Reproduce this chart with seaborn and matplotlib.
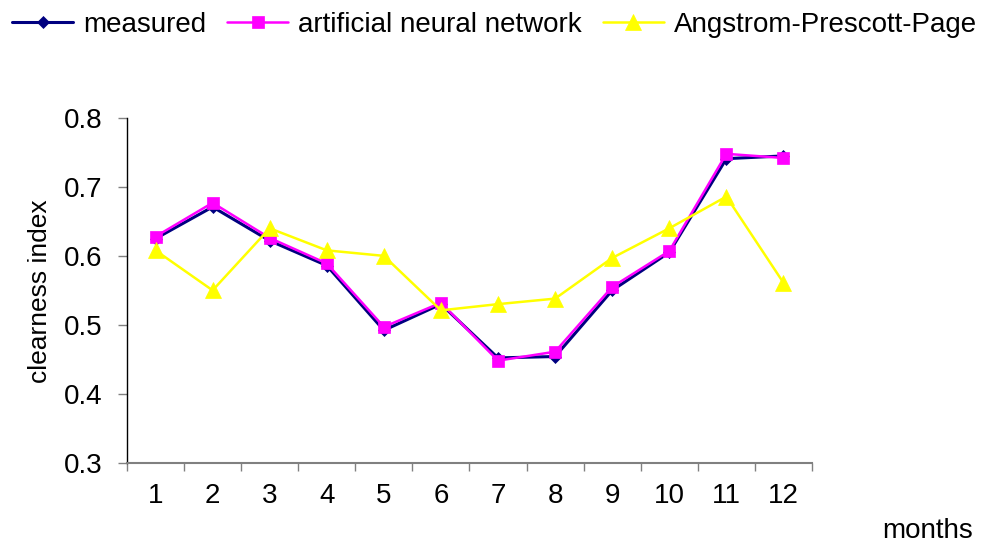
import matplotlib
matplotlib.use("Agg")
import matplotlib.pyplot as plt
import seaborn as sns
import pandas as pd

# Monthly clearness index: measurements vs. two estimation models
months = list(range(1, 13))
measured = [0.625, 0.671, 0.622, 0.586, 0.492, 0.530, 0.452, 0.454, 0.550, 0.605, 0.741, 0.745]
ann = [0.628, 0.677, 0.626, 0.589, 0.497, 0.532, 0.448, 0.461, 0.555, 0.607, 0.748, 0.742]
app = [0.608, 0.550, 0.640, 0.608, 0.600, 0.521, 0.530, 0.538, 0.597, 0.640, 0.686, 0.561]
series_names = ["measured", "artificial neural network", "Angstrom-Prescott-Page"]
y_ticks = [0.3, 0.4, 0.5, 0.6, 0.7, 0.8]

df = pd.DataFrame({"month": months, series_names[0]: measured,
                   series_names[1]: ann, series_names[2]: app})

sns.set_style("white")
plt.rcParams["font.family"] = ["Liberation Sans", "DejaVu Sans"]
plt.rcParams["text.color"] = "black"
plt.rcParams["axes.labelcolor"] = "black"
plt.rcParams["xtick.labelcolor"] = "black"
plt.rcParams["ytick.labelcolor"] = "black"

fig = plt.figure(figsize=(9.99, 5.43), dpi=100)
ax = fig.add_axes([0.1271, 0.1479, 0.6857, 0.6348])

styles = [
    dict(color="#000080", marker="D", markersize=6, linewidth=2.2),
    dict(color="#FF00FF", marker="s", markersize=9, linewidth=1.8),
    dict(color="#FFFF00", marker="^", markersize=11, linewidth=1.8),
]
for name, st in zip(series_names, styles):
    sns.lineplot(data=df, x="month", y=name, ax=ax, label=name,
                 markeredgecolor=st["color"], markeredgewidth=0.5, **st)

ax.set_xlim(0.5, 12.5)
ax.set_ylim(0.3, 0.8)

# Category boundaries as tick marks, month labels centred between them
ax.set_xticks([m - 0.5 for m in months] + [12.5])
ax.set_xticklabels([])
ax.set_xticks(months, minor=True)
ax.set_xticklabels([str(m) for m in months], minor=True)
ax.tick_params(axis="x", which="major", direction="out", length=6, width=1,
               color="#808080", bottom=True)
ax.tick_params(axis="x", which="minor", length=0, pad=14.5, labelsize=20,
               labelcolor="black")

ax.set_yticks(y_ticks)
ax.set_yticklabels([f"{v:.1f}" for v in y_ticks])
ax.tick_params(axis="y", direction="out", length=6.5, width=1,
               color="#808080", left=True, pad=11, labelsize=20,
               labelcolor="black")

for side in ("top", "right"):
    ax.spines[side].set_visible(False)
ax.spines["left"].set_color("black")
ax.spines["left"].set_linewidth(1)
ax.spines["bottom"].set_color("#808080")
ax.spines["bottom"].set_linewidth(1.5)

ax.set_ylabel("clearness index", fontsize=19, color="black")
ax.yaxis.set_label_coords(-0.1095, 0.497)
ax.set_xlabel("months", fontsize=20, color="black")
ax.xaxis.set_label_coords(1.169, -0.160)

handles, labels = ax.get_legend_handles_labels()
ax.get_legend().remove()
leg = fig.legend(handles, labels, loc="upper left", bbox_to_anchor=(0.012, 0.978),
                 ncol=3, frameon=False, fontsize=20, borderpad=0, borderaxespad=0,
                 handlelength=2.2, handletextpad=0.36, columnspacing=0.75)
for t in leg.get_texts():
    t.set_color("black")

fig.savefig("out.png", dpi=100, facecolor="white")
